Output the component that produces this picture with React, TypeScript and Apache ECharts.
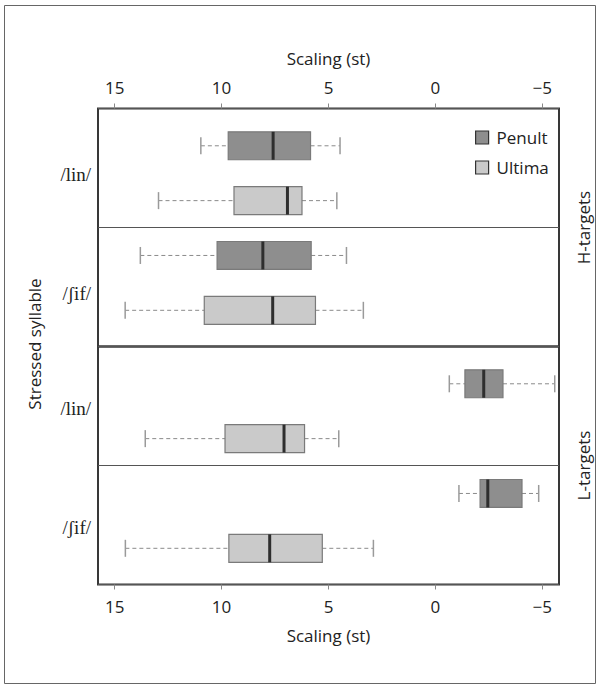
import React, { useEffect, useRef } from "react";
import * as echarts from "echarts";

// Box statistics per syllable: [lower whisker, Q1, median, Q3, upper whisker] (st)
const syllables = ["/lin/", "/ʃif/"];
const groups = ["H-targets", "L-targets"];
const hPenult = [
  [10.97, 9.69, 7.59, 5.84, 4.46],
  [13.8, 10.21, 8.07, 5.81, 4.16],
];
const hUltima = [
  [12.95, 9.42, 6.92, 6.24, 4.61],
  [14.51, 10.81, 7.61, 5.61, 3.37],
];
const lPenult = [
  [-0.65, -1.38, -2.26, -3.16, -5.58],
  [-1.1, -2.09, -2.45, -4.05, -4.83],
];
const lUltima = [
  [13.57, 9.84, 7.08, 6.12, 4.52],
  [14.5, 9.66, 7.75, 5.29, 2.9],
];
const tickValues = [15, 10, 5, 0, -5];
const xMin = -5.78;
const xMax = 15.78;

const PENULT_FILL = "#8e8e8e";
const ULTIMA_FILL = "#cacaca";
const SANS = "'Open Sans', 'Noto Sans', sans-serif";
const SERIF = "'Liberation Serif', 'DejaVu Serif', serif";

// rows inside each panel: syllable i -> Penult at i*2, Ultima at i*2+1
const ROW0 = 0.68;
const Y_MAX = 4.34;

function buildData(stats: number[][], slot: number) {
  return stats.map((s, i) => [ROW0 + i * 2 + slot, ...s]);
}

function renderBox(params: any, api: any) {
  const y = api.value(0);
  const lo = api.value(1);
  const q1 = api.value(2);
  const med = api.value(3);
  const q3 = api.value(4);
  const hi = api.value(5);
  const pLo = api.coord([lo, y]);
  const pQ1 = api.coord([q1, y]);
  const pMed = api.coord([med, y]);
  const pQ3 = api.coord([q3, y]);
  const pHi = api.coord([hi, y]);
  const unit = Math.abs(api.coord([0, y + 1])[1] - pLo[1]);
  const bh = unit * 0.51;
  const ch = unit * 0.155;
  const cy = pLo[1];
  const fill = api.visual("color");
  const whisk = { stroke: "#8a8a8a", lineWidth: 1, lineDash: [4, 3] };
  const cap = { stroke: "#9a9a9a", lineWidth: 1.5 };
  return {
    type: "group",
    children: [
      { type: "line", shape: { x1: pLo[0], y1: cy, x2: pQ1[0], y2: cy }, style: whisk },
      { type: "line", shape: { x1: pQ3[0], y1: cy, x2: pHi[0], y2: cy }, style: whisk },
      { type: "line", shape: { x1: pLo[0], y1: cy - ch, x2: pLo[0], y2: cy + ch }, style: cap },
      { type: "line", shape: { x1: pHi[0], y1: cy - ch, x2: pHi[0], y2: cy + ch }, style: cap },
      {
        type: "rect",
        shape: {
          x: Math.min(pQ1[0], pQ3[0]),
          y: cy - bh / 2,
          width: Math.abs(pQ3[0] - pQ1[0]),
          height: bh,
        },
        style: { fill, stroke: "#7a7a7a", lineWidth: 1.2 },
      },
      {
        type: "line",
        shape: { x1: pMed[0], y1: cy - bh / 2, x2: pMed[0], y2: cy + bh / 2 },
        style: { stroke: "#2e2e2e", lineWidth: 3 },
      },
    ],
  };
}

export default function App() {
  const ref = useRef<HTMLDivElement>(null);
  useEffect(() => {
    if (!ref.current) return;
    const chart = echarts.init(ref.current, null, { renderer: "svg" });
    const fmt = (v: number) => String(v).replace("-", "\u2212");
    const xAxisBase = (gridIndex: number, position: string, nameGap: number) => ({
      type: "value",
      gridIndex,
      position,
      inverse: true,
      min: xMin,
      max: xMax,
      name: "Scaling (st)",
      nameLocation: "middle",
      nameGap,
      nameMoveOverlap: false,
      nameTextStyle: { fontFamily: SANS, fontSize: 17, color: "#222" },
      axisLine: { show: false, onZero: false },
      axisTick: {
        show: true,
        length: 5,
        customValues: tickValues,
        lineStyle: { color: "#888", width: 1 },
      },
      axisLabel: {
        show: true,
        customValues: tickValues,
        formatter: fmt,
        fontFamily: SANS,
        fontSize: 17,
        color: "#222",
        margin: 13,
      },
      splitLine: { show: false },
    });
    const catAxis = (gridIndex: number) => ({
      type: "category",
      gridIndex,
      data: syllables,
      inverse: true,
      position: "left",
      axisLine: { show: false, onZero: false },
      axisTick: { show: false },
      axisLabel: { show: false },
      splitLine: { show: true, lineStyle: { color: "#555", width: 1 } },
    });
    const valAxis = (gridIndex: number, name: string) => ({
      type: "value",
      gridIndex,
      position: "right",
      min: 0,
      max: Y_MAX,
      inverse: true,
      name,
      nameLocation: "middle",
      nameGap: 16,
      nameRotate: 90,
      nameTextStyle: { fontFamily: SANS, fontSize: 17, color: "#222" },
      axisLine: { show: false, onZero: false },
      axisTick: { show: false },
      axisLabel: { show: false },
      splitLine: { show: false },
    });
    const grid = (top: number) => ({
      left: 98,
      width: 461,
      top,
      height: 238,
      show: true,
      borderColor: "#383838",
      borderWidth: 2,
      backgroundColor: "transparent",
      outerBoundsMode: "none",
    });
    const series = (
      name: string,
      stats: number[][],
      slot: number,
      gridIdx: number,
      color: string
    ) => ({
      type: "custom",
      name,
      xAxisIndex: gridIdx,
      yAxisIndex: gridIdx * 2 + 1,
      renderItem: renderBox,
      itemStyle: { color },
      encode: { x: [1, 2, 3, 4, 5], y: 0 },
      data: buildData(stats, slot),
      z: 5,
    });
    const baseGraphics: any[] = [
      {
        type: "rect",
        shape: { x: 4.5, y: 5.5, width: 591, height: 678 },
        style: { fill: "none", stroke: "#666", lineWidth: 1 },
        silent: true,
        z: 0,
      },
      {
        type: "text",
        x: 34,
        y: 344,
        rotation: Math.PI / 2,
        style: {
          text: "Stressed syllable",
          fontFamily: SANS,
          fontSize: 17,
          fill: "#222",
          align: "center",
          verticalAlign: "middle",
        },
      },
    ];
    chart.setOption({
      animation: false,
      backgroundColor: "#ffffff",
      grid: [grid(108.5), grid(346.5)],
      xAxis: [xAxisBase(0, "top", 42), xAxisBase(1, "bottom", 42)],
      yAxis: [catAxis(0), valAxis(0, groups[0]), catAxis(1), valAxis(1, groups[1])],
      legend: {
        orient: "vertical",
        left: 470,
        top: 124,
        itemWidth: 13,
        itemHeight: 13,
        itemGap: 13,
        icon: "rect",
        data: ["Penult", "Ultima"],
        selectedMode: false,
        itemStyle: { borderColor: "#333", borderWidth: 1.2 },
        textStyle: { fontFamily: SANS, fontSize: 17, color: "#222", padding: [0, 0, 0, 3] },
      },
      series: [
        series("Penult", hPenult, 0, 0, PENULT_FILL),
        series("Ultima", hUltima, 1, 0, ULTIMA_FILL),
        series("Penult", lPenult, 0, 1, PENULT_FILL),
        series("Ultima", lUltima, 1, 1, ULTIMA_FILL),
      ],
      graphic: baseGraphics,
    });
    // syllable labels placed at the category axis positions
    const labelShift = [6, 2];
    const labelGraphics: any[] = [];
    [0, 1].forEach((g) => {
      syllables.forEach((s) => {
        const py = chart.convertToPixel({ yAxisIndex: g * 2 } as any, s) as any;
        const yPix = Array.isArray(py) ? py[1] : py;
        labelGraphics.push({
          type: "text",
          x: 91,
          y: yPix + labelShift[g],
          style: {
            text: s,
            fontFamily: SERIF,
            fontSize: 19,
            fill: "#222",
            align: "right",
            verticalAlign: "middle",
          },
        });
      });
    });
    chart.setOption({ graphic: [...baseGraphics, ...labelGraphics] });
    return () => chart.dispose();
  }, []);
  return (
    <div
      ref={ref}
      style={{ position: "absolute", left: 0, top: 0, width: 600, height: 688 }}
    />
  );
}
